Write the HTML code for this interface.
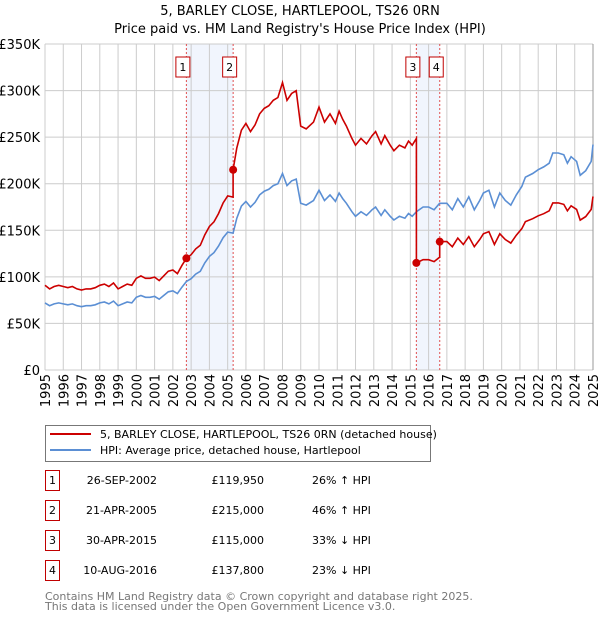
<!DOCTYPE html>
<html><head><meta charset="utf-8"><style>
body{margin:0;background:#fff;font-family:"Liberation Sans","DejaVu Sans",sans-serif;}
svg text{font-family:"DejaVu Sans","Liberation Sans",sans-serif;}
</style></head><body>
<svg id="c" width="600" height="620" xmlns="http://www.w3.org/2000/svg"></svg>
<script>
const hpiYears=[1995,1995.25,1995.5,1995.75,1996,1996.25,1996.5,1996.75,1997,1997.25,1997.5,1997.75,1998,1998.25,1998.5,1998.75,1999,1999.25,1999.5,1999.75,2000,2000.25,2000.5,2000.75,2001,2001.25,2001.5,2001.75,2002,2002.25,2002.5,2002.74,2003,2003.25,2003.5,2003.75,2004,2004.25,2004.5,2004.75,2005,2005.3,2005.5,2005.75,2006,2006.25,2006.5,2006.75,2007,2007.25,2007.5,2007.75,2008,2008.25,2008.5,2008.75,2009,2009.3,2009.7,2010,2010.3,2010.6,2010.9,2011.1,2011.3,2011.5,2011.8,2012,2012.3,2012.6,2012.9,2013.1,2013.4,2013.6,2013.9,2014.1,2014.4,2014.7,2014.9,2015.1,2015.33,2015.7,2016,2016.3,2016.6,2017,2017.3,2017.6,2017.9,2018.2,2018.5,2018.8,2019,2019.3,2019.6,2019.9,2020.2,2020.5,2020.8,2021.1,2021.3,2021.7,2022,2022.3,2022.6,2022.8,2023.1,2023.4,2023.6,2023.8,2024.1,2024.3,2024.6,2024.9,2025];
const hpiValues=[72,69,71,72,71,70,71,69,68,69,69,70,72,73,71,74,69,71,73,72,78,80,78,78,79,76,80,84,85,82,89,95,98,103,106,115,122,126,133,142,148,147,163,176,181,175,180,188,192,194,198,200,211,198,203,205,179,177,182,193,182,188,181,190,184,179,170,165,170,166,172,175,166,172,165,161,165,163,168,165,170,175,175,172,179,179,172,184,175,186,172,182,190,193,175,190,182,177,188,197,207,211,215,218,222,233,233,231,222,229,224,209,214,224,242];
const saleYears=[2002.74,2005.30,2015.33,2016.61];
const salePrices=[119.95,215,115,137.8];
const saleLabels=["1","2","3","4"];
const yTicks=[0,50,100,150,200,250,300,350];
const yTickLabels=["£0","£50K","£100K","£150K","£200K","£250K","£300K","£350K"];
const xTicks=[1995,1996,1997,1998,1999,2000,2001,2002,2003,2004,2005,2006,2007,2008,2009,2010,2011,2012,2013,2014,2015,2016,2017,2018,2019,2020,2021,2022,2023,2024,2025];

const X0=45,X1=593,Y0=370,Y1=44;
const xs=v=>X0+(v-1995)/30*(X1-X0);
const ys=v=>Y0-v/350*(Y0-Y1);
const svg=document.getElementById('c');
const NS='http://www.w3.org/2000/svg';
function mk(t,a,p){const e=document.createElementNS(NS,t);for(const k in a)e.setAttribute(k,a[k]);(p||svg).appendChild(e);return e;}
function hpiAt(t){for(let i=1;i<hpiYears.length;i++){if(t<=hpiYears[i]){const f=(t-hpiYears[i-1])/(hpiYears[i]-hpiYears[i-1]);return hpiValues[i-1]+f*(hpiValues[i]-hpiValues[i-1]);}}return hpiValues[hpiValues.length-1];}

let e;
e=mk('text',{x:300,y:15,'text-anchor':'middle','font-size':13,fill:'#000'});e.textContent='5, BARLEY CLOSE, HARTLEPOOL, TS26 0RN';


e=mk('text',{x:300,y:33,'text-anchor':'middle','font-size':13,fill:'#000'});e.textContent="Price paid vs. HM Land Registry's House Price Index (HPI)";



for(const [a,b] of [[0,1],[2,3]]){
  e=mk('rect',{x:xs(saleYears[a]),y:Y1,width:xs(saleYears[b])-xs(saleYears[a]),height:Y0-Y1,fill:'#eef3fc',opacity:0.8});
  
  
}
for(const t of xTicks){e=mk('line',{x1:xs(t),x2:xs(t),y1:Y1,y2:Y0,stroke:'#cccccc','stroke-width':1});
  
  }
yTicks.forEach((t,i)=>{e=mk('line',{x1:X0,x2:X1,y1:ys(t),y2:ys(t),stroke:'#cccccc','stroke-width':1});
  
  
  const l=mk('text',{x:40,y:ys(t)+5,'text-anchor':'end','font-size':13,fill:'#000'});l.textContent=yTickLabels[i];
  
  });
xTicks.forEach(t=>{const l=mk('text',{x:0,y:0,'text-anchor':'end','font-size':13,fill:'#000',transform:`translate(${xs(t)+5},374) rotate(-90)`});l.textContent=t;
  
  });
e=mk('line',{x1:X1,x2:X1,y1:Y1,y2:Y0,stroke:'#999','stroke-width':1});



saleYears.forEach((s,i)=>{
  e=mk('line',{x1:xs(s),x2:xs(s),y1:Y1,y2:Y0,stroke:'#e05050','stroke-width':1,'stroke-dasharray':'2,2'});
  
  
  const g=mk('g',{});
  
  
  mk('rect',{x:xs(s)-10.5,y:57,width:14,height:20,fill:'#fff',stroke:'#c00000','stroke-width':1},g);
  const t=mk('text',{x:xs(s)-3.5,y:71,'text-anchor':'middle','font-size':11,fill:'#000'},g);t.textContent=saleLabels[i];
});

let d='';hpiYears.forEach((t,i)=>{d+=(i?'L':'M')+xs(t).toFixed(1)+','+ys(hpiValues[i]).toFixed(1);});
e=mk('path',{d:d,fill:'none',stroke:'#5b8fd4','stroke-width':1.6});



const ratios=saleYears.map((s,i)=>salePrices[i]/hpiAt(s));
function ratioAt(t){let r=ratios[0];saleYears.forEach((s,i)=>{if(t>=s)r=ratios[i];});return r;}
const pts=[];
hpiYears.forEach((t,i)=>{pts.push([t,hpiValues[i]]);});
saleYears.forEach(s=>pts.push([s,hpiAt(s)]));
pts.sort((a,b)=>a[0]-b[0]);
let pd='';let first=true;
pts.forEach(p=>{
  const si=saleYears.indexOf(p[0]);
  if(si>0){pd+='L'+xs(p[0]).toFixed(1)+','+ys(p[1]*ratios[si-1]).toFixed(1);}
  pd+=(first?'M':'L')+xs(p[0]).toFixed(1)+','+ys(p[1]*ratioAt(p[0])).toFixed(1);first=false;
});
e=mk('path',{d:pd,fill:'none',stroke:'#cc0000','stroke-width':1.6});


saleYears.forEach((s,i)=>{
  e=mk('circle',{cx:xs(s),cy:ys(salePrices[i]),r:4,fill:'#cc0000'});
  
  
});

const lg=mk('g',{});


mk('rect',{x:45.5,y:425.5,width:385,height:36,fill:'#fff',stroke:'#777','stroke-width':1},lg);
mk('line',{x1:50,x2:91,y1:434,y2:434,stroke:'#cc0000','stroke-width':2},lg);
mk('line',{x1:50,x2:91,y1:450,y2:450,stroke:'#5b8fd4','stroke-width':2},lg);
e=mk('text',{x:100,y:438,'font-size':11,fill:'#000'},lg);e.textContent='5, BARLEY CLOSE, HARTLEPOOL, TS26 0RN (detached house)';
e=mk('text',{x:100,y:454,'font-size':11,fill:'#000'},lg);e.textContent='HPI: Average price, detached house, Hartlepool';

const dates=["26-SEP-2002","21-APR-2005","30-APR-2015","10-AUG-2016"];
const prices=["£119,950","£215,000","£115,000","£137,800"];
const rel=["26% \u2191 HPI","46% \u2191 HPI","33% \u2193 HPI","23% \u2193 HPI"];
dates.forEach((dt,i)=>{
  const y=483+i*30;
  const g=mk('g',{});
  
  
  mk('rect',{x:45.5,y:y-12.5,width:14,height:20,fill:'#fff',stroke:'#c00000','stroke-width':1},g);
  let t=mk('text',{x:52.5,y:y+1,'text-anchor':'middle','font-size':11,fill:'#000'},g);t.textContent=saleLabels[i];
  t=mk('text',{x:157,y:y+1,'text-anchor':'end','font-size':11,fill:'#000'},g);t.textContent=dt;
  t=mk('text',{x:264,y:y+1,'text-anchor':'end','font-size':11,fill:'#000'},g);t.textContent=prices[i];
  t=mk('text',{x:312,y:y+1,'font-size':11,fill:'#000'},g);t.textContent=rel[i];
});
e=mk('text',{x:45,y:600,'font-size':11,fill:'#777'});e.textContent='Contains HM Land Registry data \u00a9 Crown copyright and database right 2025.';


e=mk('text',{x:45,y:610,'font-size':11,fill:'#777'});e.textContent='This data is licensed under the Open Government Licence v3.0.';


</script>
</body></html>
